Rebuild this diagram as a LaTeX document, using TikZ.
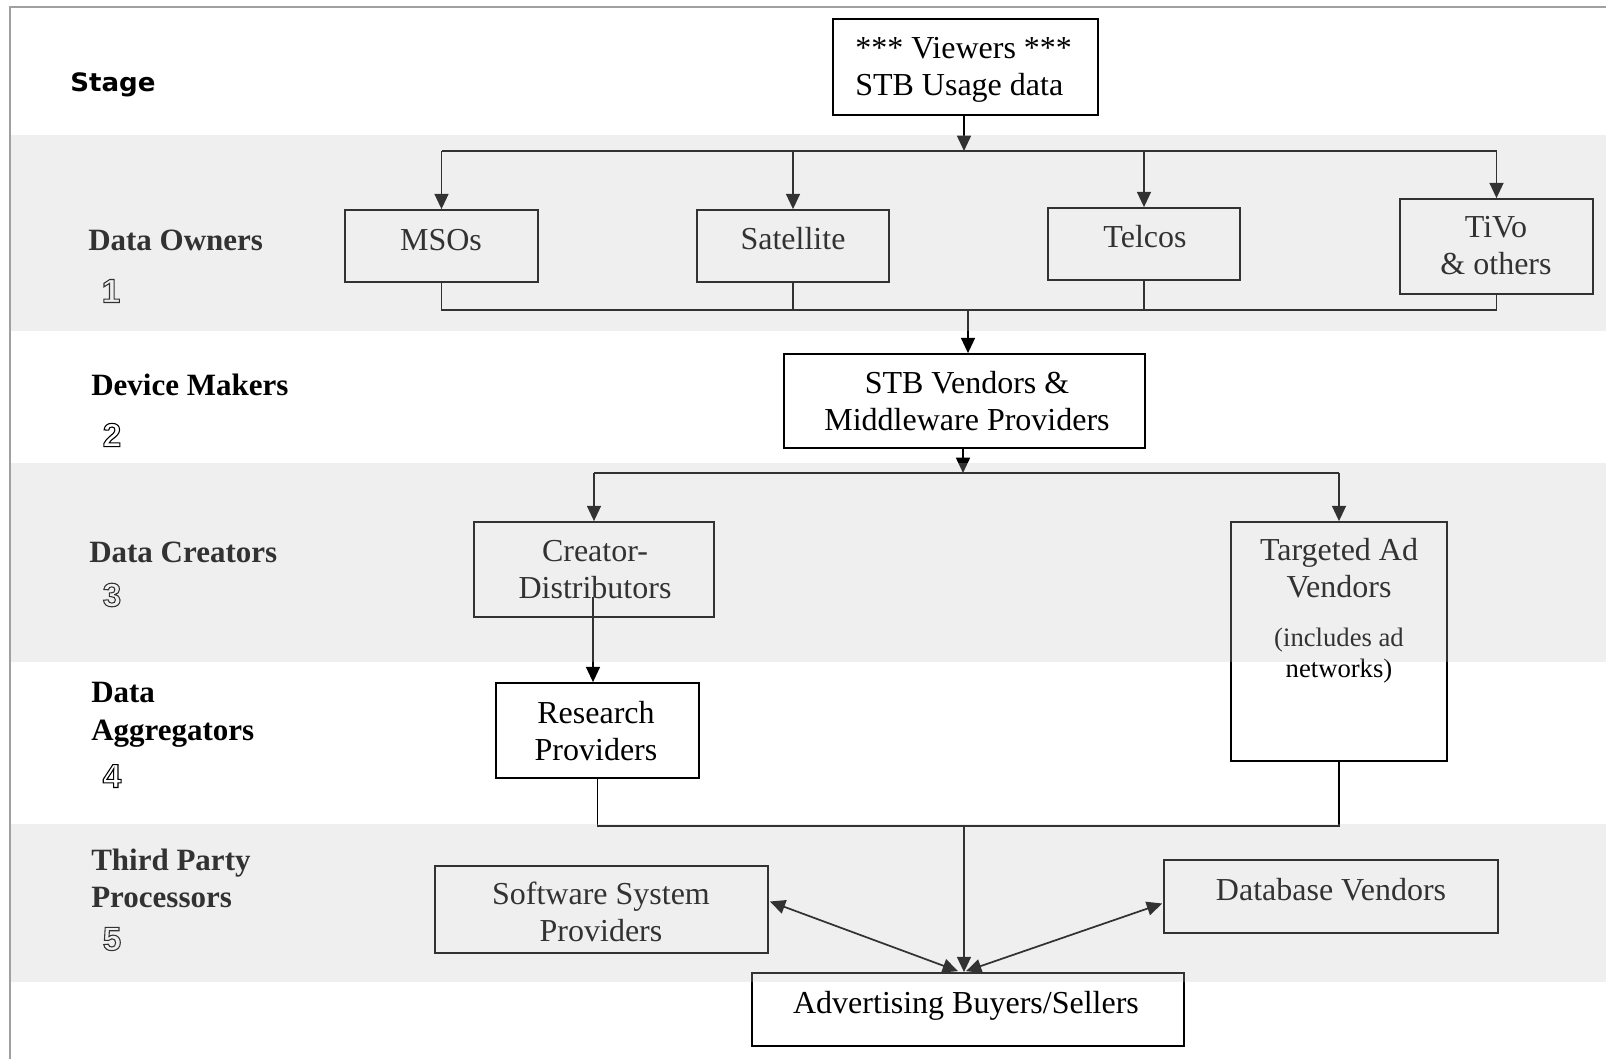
\documentclass[tikz,border=0pt]{standalone}
\usepackage{fontspec}
\setmainfont{Liberation Serif}
\newfontfamily\stagefont{DejaVu Sans}
\newfontfamily\digfont{Liberation Sans}
\usetikzlibrary{arrows.meta,calc}
\newcommand{\mlc}[1]{\begin{tabular}[t]{@{}c@{}}#1\end{tabular}}
\newcommand{\mll}[1]{\begin{tabular}[t]{@{}l@{}}#1\end{tabular}}
\newcommand{\outdig}[1]{\special{pdf:literal direct 1 Tr 0.8 w}#1\special{pdf:literal direct 0 Tr}}
\begin{document}
\begin{tikzpicture}[x=0.75pt,y=-0.75pt,
  box/.style={draw=black, line width=1.3pt, inner sep=0pt, rectangle},
  txt/.style={inner sep=0pt, anchor=base, font=\fontsize{24}{27.75}\selectfont},
  smalltxt/.style={inner sep=0pt, anchor=base, font=\fontsize{20}{23.5}\selectfont},
  stagelbl/.style={inner sep=0pt, anchor=base west, font=\fontsize{23.25}{28.5}\selectfont\bfseries},
  digit/.style={inner sep=0pt, anchor=center, font=\digfont\bfseries\fontsize{25}{25}\selectfont},
  conn/.style={draw=black, line width=1.3pt},
  arr/.style={conn, -{Triangle[length=11.5pt,width=10.5pt]}},
  darr/.style={conn, {Triangle[length=11.5pt,width=10.5pt]}-{Triangle[length=11.5pt,width=10.5pt]}},
  band/.style={fill={rgb,255:red,197;green,197;blue,197}, fill opacity=0.26, draw=none},
  frame/.style={draw={rgb,255:red,160;green,160;blue,160}, line width=0.9pt}]

\useasboundingbox (0,0) rectangle (1606,1059);
\fill[white] (0,0) rectangle (1606,1059);

% frame
\draw[frame] (10,1059) -- (10,7) -- (1606,7);

% stage labels
\node[inner sep=0pt, anchor=base west, font=\stagefont\bfseries\fontsize{19}{19}\selectfont] (stg) at (70,92) {\scalebox{1.03}[1]{Stage}};
\node[stagelbl] (l1) at (88,251) {Data Owners};
\node[digit] (d1) at (111,291) {\outdig{1}};
\node[stagelbl] (l2) at (91,395) {Device Makers};
\node[digit] (d2) at (112,435) {\outdig{2}};
\node[stagelbl] (l3) at (89,562) {Data Creators};
\node[digit] (d3) at (112,595) {\outdig{3}};
\node[stagelbl] (l4a) at (91,702) {Data};
\node[stagelbl] (l4b) at (91,740) {Aggregators};
\node[digit] (d4) at (112,776) {\outdig{4}};
\node[stagelbl] (l5a) at (91,870) {Third Party};
\node[stagelbl] (l5b) at (91,907) {Processors};
\node[digit] (d5) at (112,939) {\outdig{5}};

% boxes
\node[box, minimum width=198.75pt, minimum height=72pt] (view) at (965.5,67) {};
\node[box, minimum width=144.75pt, minimum height=54pt] (mso) at (441.5,246) {};
\node[box, minimum width=144pt, minimum height=54pt] (sat) at (793,246) {};
\node[box, minimum width=144pt, minimum height=54pt] (tel) at (1144,244) {};
\node[box, minimum width=144.75pt, minimum height=71.25pt] (tivo) at (1496.5,246.5) {};
\node[box, minimum width=270.75pt, minimum height=70.5pt] (stb) at (964.5,401) {};
\node[box, minimum width=180pt, minimum height=71.25pt] (cre) at (594,569.5) {};
\node[box, minimum width=152.25pt, minimum height=71.25pt] (res) at (597.5,730.5) {};
\node[box, minimum width=162pt, minimum height=179.25pt] (tav) at (1339,641.5) {};
\node[box, minimum width=249.75pt, minimum height=65.25pt] (sw) at (601.5,909.5) {};
\node[box, minimum width=250.5pt, minimum height=54.75pt] (db) at (1331,896.5) {};
\node[box, minimum width=324pt, minimum height=54.75pt] (adv) at (968,1009.5) {};

% box texts
\node[txt, anchor=base west] (tview) at (855,59) {\mll{*** Viewers ***\\STB Usage data}};
\node[txt] (tmso) at (441,251) {MSOs};
\node[txt] (tsat) at (793,250) {Satellite};
\node[txt] (ttel) at (1145,248) {Telcos};
\node[txt] (ttivo) at (1496,238) {\mlc{TiVo\\\& others}};
\node[txt] (tstb) at (967,393) {\mlc{STB Vendors \&\\Middleware Providers}};
\node[txt] (tcre) at (595,561) {\mlc{Creator-\\Distributors}};
\node[txt] (tres) at (596,723) {\mlc{Research\\Providers}};
\node[txt] (ttav) at (1339,560) {\mlc{Targeted Ad\\Vendors}};
\node[smalltxt] (ttav2) at (1339,646) {\mlc{(includes ad\\networks)}};
\node[txt] (tsw) at (601,904) {\mlc{Software System\\Providers}};
\node[txt] (tdb) at (1331,900) {Database Vendors};
\node[txt] (tadv) at (966,1013) {Advertising Buyers/Sellers};

% connectors: viewers to data owners
\coordinate (t1) at (964,151);
\draw[arr] (view.south -| t1) -- (t1);
\draw[conn] (mso.north |- t1) -- (tivo.north |- t1);
\draw[arr] (mso.north |- t1) -- (mso.north);
\draw[arr] (sat.north |- t1) -- (sat.north);
\draw[arr] (tel.north |- t1) -- (tel.north);
\draw[arr] (tivo.north |- t1) -- (tivo.north);

% data owners to STB vendors
\coordinate (b1) at (968,310);
\draw[conn] (mso.south) -- (mso.south |- b1) -- (tivo.south |- b1) -- (tivo.south);
\draw[conn] (sat.south) -- (sat.south |- b1);
\draw[conn] (tel.south) -- (tel.south |- b1);
\draw[arr] (b1) -- (b1 |- stb.north);

% STB to creators
\coordinate (b2) at (963,473);
\draw[arr] (stb.south -| b2) -- (b2);
\draw[conn] (cre.north |- b2) -- (tav.north |- b2);
\draw[arr] (cre.north |- b2) -- (cre.north);
\draw[arr] (tav.north |- b2) -- (tav.north);

% creator to research
\coordinate (cr) at (593,597);
\draw[arr] (cr) -- (cr |- res.north);

% aggregators to advertising
\coordinate (b3) at (964,826);
\draw[conn] (res.south) -- (res.south |- b3) -- (tav.south |- b3) -- (tav.south);
\draw[arr] (b3) -- (b3 |- adv.north);

% third party double arrows
\draw[darr] ($(sw.east)+(1,-8)$) -- ($(adv.north)+(-10,-1)$);
\draw[darr] ($(db.west)+(-1,7)$) -- ($(adv.north)+(-2,-1)$);

% gray bands (translucent overlay)
\fill[band] (11,135) rectangle (1606,331);
\fill[band] (11,463) rectangle (1606,662);
\fill[band] (11,824) rectangle (1606,982);
\end{tikzpicture}
\end{document}
